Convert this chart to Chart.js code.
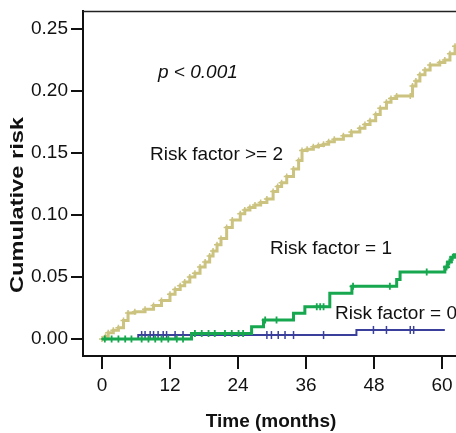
<!DOCTYPE html>
<html>
<head>
<meta charset="utf-8">
<script src="https://cdn.jsdelivr.net/npm/chart.js@4.4.1/dist/chart.umd.min.js"></script>
<style>
  html, body { margin: 0; padding: 0; background: #fff; overflow: hidden; }
  #wrap { width: 456px; height: 433px; }
</style>
</head>
<body>
<div id="wrap"><canvas id="c" width="456" height="433"></canvas></div>
<script>
// ---- Data ----
const xTicks = [0, 12, 24, 36, 48, 60];
const yTicks = [0, 0.05, 0.10, 0.15, 0.20, 0.25];

// Risk factor >= 2
const yellowT = [0, 0.6, 1.1, 2.0, 2.9, 3.8, 4.6, 5.8, 7.6, 9.1, 10.5, 12.0, 12.9, 13.8, 14.6, 15.5, 16.4, 17.3, 18.2, 19.0, 19.6, 20.3, 21.0, 22.0, 23.0, 24.4, 25.2, 26.1, 27.0, 28.0, 29.1, 30.2, 31.0, 31.7, 32.6, 33.8, 34.7, 35.3, 36.2, 37.3, 38.2, 39.1, 40.0, 41.0, 42.6, 44.0, 45.5, 46.4, 47.3, 48.3, 49.1, 50.2, 51.0, 52.0, 54.4, 54.8, 55.4, 56.1, 57.0, 57.9, 59.6, 60.5, 61.4, 62.3, 63.0];
const yellowR = [0, 0.002, 0.005, 0.007, 0.009, 0.015, 0.021, 0.022, 0.024, 0.027, 0.031, 0.036, 0.040, 0.043, 0.046, 0.050, 0.053, 0.058, 0.062, 0.067, 0.071, 0.076, 0.081, 0.090, 0.096, 0.101, 0.104, 0.106, 0.108, 0.110, 0.113, 0.119, 0.123, 0.126, 0.131, 0.137, 0.144, 0.152, 0.153, 0.155, 0.156, 0.157, 0.159, 0.161, 0.164, 0.167, 0.170, 0.173, 0.176, 0.181, 0.186, 0.191, 0.194, 0.196, 0.196, 0.204, 0.208, 0.213, 0.217, 0.221, 0.223, 0.225, 0.230, 0.236, 0.238];

// Risk factor = 1
const greenT = [0, 15.8, 26.4, 28.5, 33.8, 35.8, 40.2, 44.1, 52.0, 52.6, 60.5, 61.0, 61.6, 62.2, 63.0];
const greenR = [0, 0.0045, 0.0099, 0.0153, 0.0207, 0.026, 0.037, 0.0425, 0.048, 0.054, 0.058, 0.062, 0.066, 0.068, 0.068];
const greenCensor = [0.5, 1.7, 2.9, 4.1, 5.2, 7.0, 8.2, 9.4, 10.5, 11.7, 13.2, 14.3, 16.4, 17.6, 18.8, 19.9, 21.7, 22.9, 24.1, 24.9, 28.8, 30.8, 37.9, 38.5, 39.1, 44.3, 50.8, 57.3, 60.8, 61.3, 61.9];

// Risk factor = 0
const blueT = [0, 6.4, 44.9, 60.5];
const blueR = [0, 0.0032, 0.0073, 0.0073];
const blueCensor = [7.0, 7.6, 8.5, 9.1, 9.9, 10.8, 11.4, 12.9, 14.3, 29.1, 29.9, 31.1, 32.3, 33.8, 39.1, 47.9, 50.2, 54.4, 55.0];

const labels = {
  p: 'p < 0.001',
  r2: 'Risk factor >= 2',
  r1: 'Risk factor = 1',
  r0: 'Risk factor = 0',
  xTitle: 'Time (months)',
  yTitle: 'Cumulative risk'
};

// ---- helpers ----
const toPts = (T, R) => T.map((t, i) => ({ x: t, y: R[i] }));
const stepAt = (T, R, t) => { let v = R[0]; for (let i = 0; i < T.length; i++) { if (T[i] <= t) v = R[i]; } return v; };
const censorPts = (C, T, R) => C.map(t => ({ x: t, y: stepAt(T, R, t) }));

const YELLOW = '#cbc37f';
const GREEN = '#17a84f';
const BLUE = '#3a3f9c';
const FONT = "'Liberation Sans', Arial, sans-serif";

const textPlugin = {
  id: 'texts',
  afterDraw(chart) {
    const ctx = chart.ctx;
    const a = chart.chartArea;
    ctx.save();
    // top frame line
    ctx.strokeStyle = '#222';
    ctx.lineWidth = 1.5;
    ctx.beginPath();
    ctx.moveTo(a.left, a.top + 0.5);
    ctx.lineTo(a.right, a.top + 0.5);
    ctx.stroke();

    ctx.fillStyle = '#111';
    ctx.textBaseline = 'middle';
    ctx.textAlign = 'left';
    ctx.font = 'italic 19px ' + FONT;
    ctx.fillText(labels.p, 158, 73);
    ctx.font = '19px ' + FONT;
    ctx.fillText(labels.r2, 150, 155);
    ctx.fillText(labels.r1, 270, 249);
    ctx.fillText(labels.r0, 335, 314);

    // x title
    ctx.textAlign = 'center';
    ctx.font = 'bold 19px ' + FONT;
    ctx.fillText(labels.xTitle, 271, 422);

    // y title (rotated, stretched to the reference length)
    ctx.save();
    ctx.translate(18, 205);
    ctx.rotate(-Math.PI / 2);
    const w = ctx.measureText(labels.yTitle).width;
    ctx.scale(176 / w, 1);
    ctx.fillText(labels.yTitle, 0, 0);
    ctx.restore();
    ctx.restore();
  }
};

new Chart(document.getElementById('c'), {
  type: 'scatter',
  data: {
    datasets: [
      {
        label: 'Risk factor = 1 censored',
        data: censorPts(greenCensor, greenT, greenR),
        showLine: false,
        pointStyle: 'cross',
        pointRadius: 3.5,
        pointBorderWidth: 1.8,
        borderColor: GREEN,
        backgroundColor: GREEN
      },
      {
        label: 'Risk factor = 1',
        data: toPts(greenT, greenR),
        showLine: true,
        stepped: true,
        borderColor: GREEN,
        borderWidth: 3,
        pointRadius: 0
      },
      {
        label: 'Risk factor = 0 censored',
        data: censorPts(blueCensor, blueT, blueR),
        showLine: false,
        pointStyle: 'line',
        rotation: 90,
        pointRadius: 4,
        pointBorderWidth: 1.5,
        borderColor: BLUE,
        backgroundColor: BLUE
      },
      {
        label: 'Risk factor = 0',
        data: toPts(blueT, blueR),
        showLine: true,
        stepped: true,
        borderColor: BLUE,
        borderWidth: 2,
        pointRadius: 0
      },
      {
        label: 'Risk factor >= 2',
        data: toPts(yellowT, yellowR),
        showLine: true,
        stepped: true,
        borderColor: YELLOW,
        backgroundColor: YELLOW,
        borderWidth: 3,
        pointStyle: 'cross',
        pointRadius: 3,
        pointBorderWidth: 1.5,
        pointBorderColor: YELLOW
      }
    ]
  },
  options: {
    responsive: false,
    animation: false,
    devicePixelRatio: 1,
    layout: { autoPadding: false, padding: { top: 11, right: 0, bottom: 0, left: 0 } },
    plugins: { legend: { display: false }, tooltip: { enabled: false } },
    scales: {
      x: {
        type: 'linear',
        min: -3.35,
        max: 62.47,
        afterBuildTicks: s => { s.ticks = xTicks.map(v => ({ value: v })); },
        afterFit: s => { s.height = 77; s.paddingLeft = 0; s.paddingRight = 0; },
        grid: { display: true, drawOnChartArea: false, drawTicks: true, tickLength: 13, color: '#111', lineWidth: 2 },
        border: { display: true, color: '#111', width: 2 },
        ticks: { color: '#111', font: { size: 19, family: FONT }, padding: 5, maxRotation: 0, autoSkip: false }
      },
      y: {
        type: 'linear',
        min: -0.0137,
        max: 0.2645,
        afterBuildTicks: s => { s.ticks = yTicks.map(v => ({ value: v })); },
        afterFit: s => { s.width = 83; s.paddingTop = 0; s.paddingBottom = 0; },
        grid: { display: true, drawOnChartArea: false, drawTicks: true, tickLength: 12, color: '#111', lineWidth: 2 },
        border: { display: true, color: '#111', width: 2 },
        ticks: { color: '#111', font: { size: 19, family: FONT }, padding: 3, callback: v => Number(v).toFixed(2) }
      }
    }
  },
  plugins: [textPlugin]
});
</script>
</body>
</html>
